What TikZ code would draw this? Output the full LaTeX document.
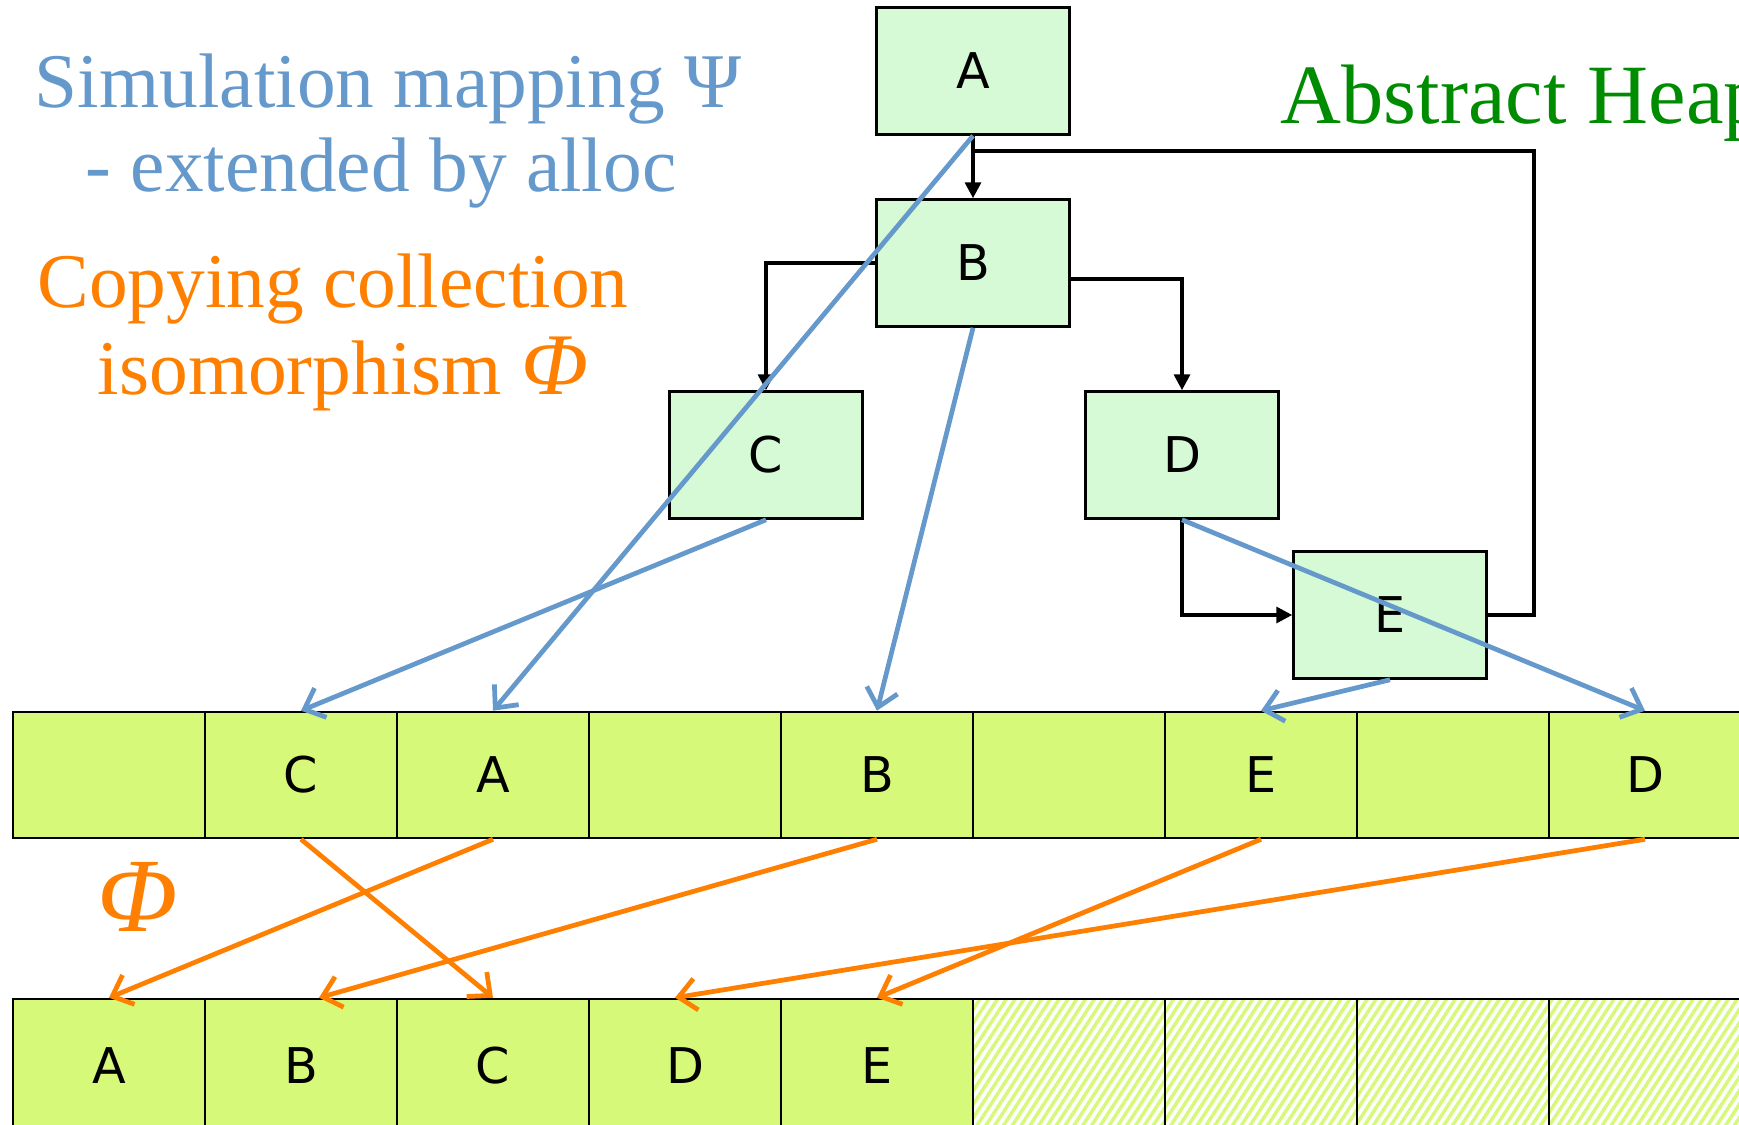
\documentclass[tikz,border=0pt]{standalone}
\usepackage{fontspec}
\setmainfont{Liberation Serif}
\newfontfamily\cellfont{DejaVu Sans}
\usetikzlibrary{calc,arrows.meta,patterns.meta}
\definecolor{psiblue}{RGB}{101,153,204}
\definecolor{phiorange}{RGB}{255,127,0}
\definecolor{heapgreen}{RGB}{0,140,0}
\definecolor{objgreen}{RGB}{213,250,213}
\definecolor{slotgreen}{RGB}{214,249,122}
\tikzset{
  heapobj/.style = {draw, line width=0.7pt, fill=objgreen, minimum width=1.93cm,
    minimum height=1.27cm, inner sep=0pt, font=\cellfont\fontsize{14}{14}\selectfont},
  slot/.style = {draw, line width=0.7pt, fill=slotgreen, minimum width=1.92cm,
    minimum height=1.26cm, inner sep=0pt, font=\cellfont\fontsize{14}{14}\selectfont},
  freeslot/.style = {slot, fill=none, pattern color=slotgreen,
    pattern={Lines[angle=57,distance=2.1pt,line width=1pt]}},
  ptr/.style = {line width=1pt, -{Triangle[length=4.5pt,width=4.5pt]}},
  psi/.style = {psiblue, line width=1.35pt, -{Straight Barb[length=5pt,width=9pt]}},
  phi/.style = {phiorange, line width=1.35pt, -{Straight Barb[length=5pt,width=9pt]}},
  caption/.style = {font=\fontsize{22}{22}\selectfont, anchor=base, inner sep=0pt}
}
\begin{document}
\begin{tikzpicture}[x=0.01cm, y=-0.01cm]
  \useasboundingbox (0,0) rectangle (1739,1125);

  \node[caption, psiblue] (psiA) at (388,108) {Simulation mapping Ψ};
  \node[caption, psiblue] (psiB) at (381,192) {- extended by alloc};
  \node[caption, phiorange] (phiA) at (333,308) {Copying collection};
  \node[caption, phiorange] (phiB) at (343,395) {isomorphism {\fontsize{25}{25}\selectfont\textit{Φ}}};
  \node[caption, heapgreen, anchor=base west, font=\fontsize{24}{24}\selectfont]
    (heap) at (1280,124) {Abstract Heap};
  \node[phiorange, font=\fontsize{30}{30}\selectfont\itshape] (phibig) at (138,897) {Φ};

  % abstract heap
  \node[heapobj] (A) at (973,71) {A};
  \node[heapobj] (B) at (973,263) {B};
  \node[heapobj] (C) at (766,455) {C};
  \node[heapobj] (D) at (1182,455) {D};
  \node[heapobj] (E) at (1390,615) {E};

  \draw[ptr] (A.south) -- (B.north);
  \draw[ptr] (B.west) -| (C.north);
  \draw[ptr] ($(B.east)+(0,16)$) -| (D.north);
  \draw[ptr] (D.south) |- (E.west);
  \coordinate (back) at (1534,151);
  \draw[line width=1pt] (E.east) -| (back) -- (back -| A.south);

  % from-space and to-space
  \foreach \lab [count=\i] in {{},C,A,{},B,{},E,{},D}
    \node[slot] (top\i) at ({192*\i-83},775) {\lab};
  \foreach \lab [count=\i] in {A,B,C,D,E}
    \node[slot, minimum height=1.34cm] (bot\i) at ({192*\i-83},1066) {\lab};
  \foreach \i in {6,...,9}
    \node[freeslot, minimum height=1.34cm] (bot\i) at ({192*\i-83},1066) {};

  % psi
  \draw[psi] (A.south) -- (top3.north);
  \draw[psi] (B.south) -- (top5.north);
  \draw[psi] (C.south) -- (top2.north);
  \draw[psi] (D.south) -- (top9.north);
  \draw[psi] (E.south) -- (top7.north);

  % phi
  \draw[phi] (top2.south) -- (bot3.north);
  \draw[phi] (top3.south) -- (bot1.north);
  \draw[phi] (top5.south) -- ($(bot2.north)+(18,0)$);
  \draw[phi] (top7.south) -- (bot5.north);
  \draw[phi] (top9.south) -- ($(bot4.north)+(-10,0)$);
\end{tikzpicture}
\end{document}
